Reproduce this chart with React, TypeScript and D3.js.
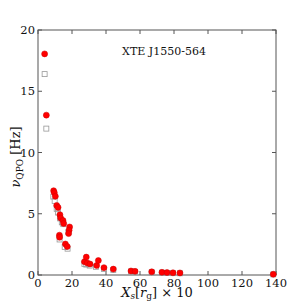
import React, { useEffect, useRef } from 'react';
import * as d3 from 'd3';

// observed QPO frequency (red dots)
const obsX = [3.9, 4.9, 9.2, 9.6, 10.2, 11.0, 11.8, 12.9, 13.3, 14.7, 15.1, 12.6, 12.7, 16.1, 17.2, 18.6, 18.3, 18.0, 27.3, 28.4, 29.0, 30.6, 34.5, 35.5, 38.8, 44.3, 54.7, 57.1, 66.9, 72.9, 75.9, 79.4, 83.5, 138.4];
const obsY = [18.05, 13.05, 6.88, 6.72, 6.42, 5.68, 5.52, 4.92, 4.65, 4.45, 4.2, 3.25, 3.08, 2.53, 2.32, 3.92, 3.66, 3.38, 1.09, 1.46, 0.98, 0.9, 0.78, 1.18, 0.6, 0.48, 0.33, 0.3, 0.26, 0.22, 0.2, 0.18, 0.17, 0.06];
// model frequency (open squares)
const modX = [3.9, 4.9, 9.0, 9.8, 11.0, 11.8, 13.0, 14.0, 14.9, 12.7, 15.7, 17.4, 17.9, 27.3, 28.4, 30.4, 34.1, 38.8, 44.3, 54.7, 57.1, 66.9, 72.9, 75.9, 79.4, 83.5, 138.4];
const modY = [16.4, 11.95, 6.4, 6.05, 5.4, 5.1, 4.62, 4.3, 4.15, 2.9, 2.29, 2.15, 3.5, 0.9, 0.85, 0.77, 0.67, 0.5, 0.42, 0.28, 0.26, 0.22, 0.19, 0.17, 0.15, 0.14, 0.05];

const xTicks = [0, 20, 40, 60, 80, 100, 120, 140];
const yTicks = [0, 5, 10, 15, 20];

const App = () => {
  const ref = useRef<SVGSVGElement>(null);

  useEffect(() => {
    const svg = d3.select(ref.current);
    svg.selectAll('*').remove();

    const left = 38, right = 276, top = 30, bottom = 275;
    const x = d3.scaleLinear().domain([0, 140]).range([left, right]);
    const y = d3.scaleLinear().domain([0, 20]).range([bottom, top]);
    const axisCol = '#555';
    const font = 'DejaVu Serif';

    // frame
    svg.append('rect')
      .attr('x', left).attr('y', top)
      .attr('width', right - left).attr('height', bottom - top)
      .attr('fill', 'none').attr('stroke', axisCol).attr('stroke-width', 1);

    const tl = 4;
    // ticks point inward on all four sides
    xTicks.forEach(t => {
      svg.append('line').attr('x1', x(t)).attr('x2', x(t)).attr('y1', bottom).attr('y2', bottom - tl).attr('stroke', axisCol);
      svg.append('line').attr('x1', x(t)).attr('x2', x(t)).attr('y1', top).attr('y2', top + tl).attr('stroke', axisCol);
      svg.append('text').attr('x', x(t)).attr('y', bottom + 12)
        .attr('text-anchor', 'middle').attr('font-family', font).attr('font-size', 11.5).attr('fill', '#111')
        .text(t);
    });
    yTicks.forEach(t => {
      svg.append('line').attr('x1', left).attr('x2', left + tl).attr('y1', y(t)).attr('y2', y(t)).attr('stroke', axisCol);
      svg.append('line').attr('x1', right).attr('x2', right - tl).attr('y1', y(t)).attr('y2', y(t)).attr('stroke', axisCol);
      svg.append('text').attr('x', left - 3).attr('y', y(t) + 4)
        .attr('text-anchor', 'end').attr('font-family', font).attr('font-size', 11.5).attr('fill', '#111')
        .text(t);
    });

    // squares (model)
    const s = 5;
    svg.append('g').selectAll('rect')
      .data(d3.range(modX.length))
      .enter()
      .append('rect')
      .attr('x', i => x(modX[i]) - s / 2)
      .attr('y', i => y(modY[i]) - s / 2)
      .attr('width', s).attr('height', s)
      .attr('fill', 'none').attr('stroke', '#999').attr('stroke-width', 0.8);

    // dots (observed)
    svg.append('g').selectAll('circle')
      .data(d3.range(obsX.length))
      .enter()
      .append('circle')
      .attr('cx', i => x(obsX[i]))
      .attr('cy', i => y(obsY[i]))
      .attr('r', 3)
      .attr('fill', '#f00')
      .attr('stroke', '#c00')
      .attr('stroke-width', 0.5);

    // title
    svg.append('text').attr('x', 164).attr('y', 55)
      .attr('text-anchor', 'middle').attr('font-family', font).attr('font-size', 11).attr('fill', '#111')
      .text('XTE J1550-564');

    // y label
    const yl = svg.append('text')
      .attr('transform', 'translate(20,157) rotate(-90)')
      .attr('text-anchor', 'middle').attr('font-family', font).attr('font-size', 13).attr('fill', '#111');
    yl.append('tspan').attr('font-style', 'italic').text('ν');
    yl.append('tspan').attr('font-size', 9).attr('dy', 3).text('QPO');
    yl.append('tspan').attr('dy', -3).text(' [Hz]');

    // x label
    const xl = svg.append('text')
      .attr('x', 157).attr('y', 297)
      .attr('text-anchor', 'middle').attr('font-family', font).attr('font-size', 13).attr('fill', '#111');
    xl.append('tspan').attr('font-style', 'italic').text('X');
    xl.append('tspan').attr('font-style', 'italic').attr('font-size', 9).attr('dy', 2).text('s');
    xl.append('tspan').attr('dy', -2).text('[');
    xl.append('tspan').attr('font-style', 'italic').text('r');
    xl.append('tspan').attr('font-size', 9).attr('dy', 2).text('g');
    xl.append('tspan').attr('dy', -2).text('] × 10');
  }, []);

  return (
    <div style={{ position: 'absolute', left: 0, top: 0 }}>
      <svg ref={ref} width={307} height={307} style={{ background: '#fff', display: 'block' }}></svg>
    </div>
  );
};

export default App;
